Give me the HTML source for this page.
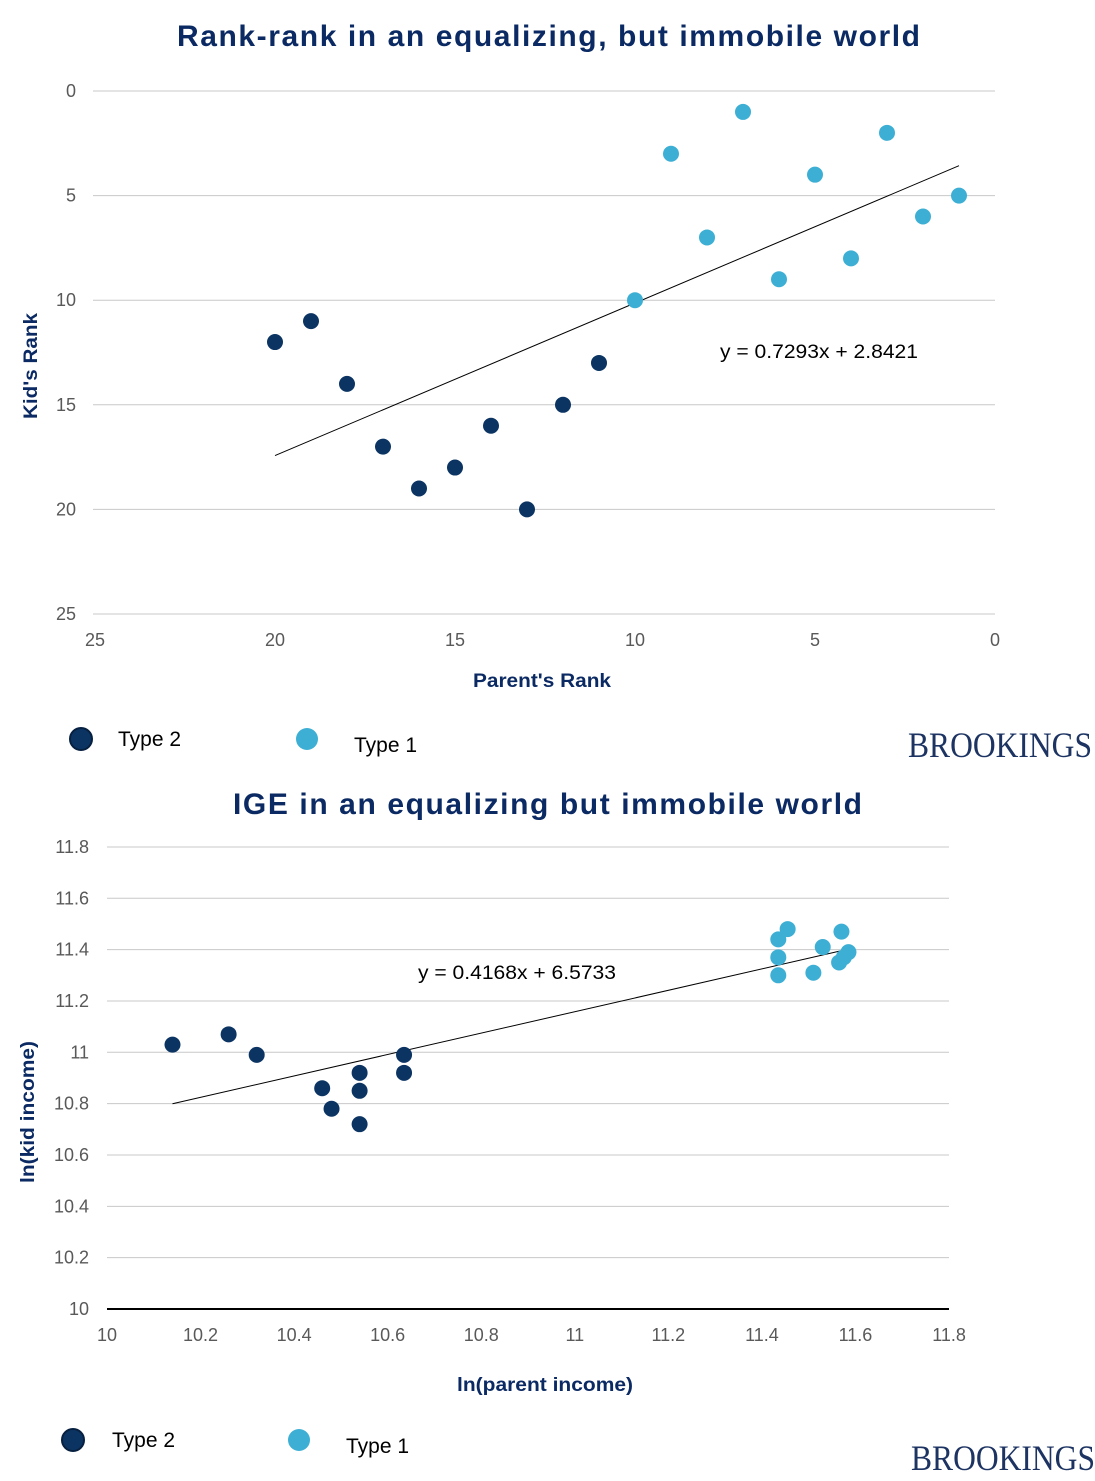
<!DOCTYPE html>
<html><head><meta charset="utf-8"><style>
body{margin:0;background:#fff;width:1095px;height:1481px;overflow:hidden;font-family:"Liberation Sans",Arial,sans-serif}
svg{display:block}
</style></head><body>
<svg id="svg" width="1095" height="1481" xmlns="http://www.w3.org/2000/svg">
<text x="177" y="46" font-size="30" font-weight="bold" fill="#0b2a63" textLength="743" lengthAdjust="spacing">Rank-rank in an equalizing, but immobile world</text>
<text x="233" y="814" font-size="30" font-weight="bold" fill="#0b2a63" textLength="629" lengthAdjust="spacing">IGE in an equalizing but immobile world</text>
<g id="c1"></g>
<g id="c2"></g>
<text x="37" y="366" transform="rotate(-90 37 366)" text-anchor="middle" font-size="19" font-weight="bold" fill="#0b2a63" textLength="106" lengthAdjust="spacingAndGlyphs">Kid's Rank</text>
<text x="542" y="687" text-anchor="middle" font-size="19" font-weight="bold" fill="#0b2a63" textLength="138" lengthAdjust="spacingAndGlyphs">Parent's Rank</text>
<text x="34" y="1112" transform="rotate(-90 34 1112)" text-anchor="middle" font-size="19" font-weight="bold" fill="#0b2a63" textLength="142" lengthAdjust="spacingAndGlyphs">ln(kid income)</text>
<text x="545" y="1391" text-anchor="middle" font-size="19" font-weight="bold" fill="#0b2a63" textLength="176" lengthAdjust="spacingAndGlyphs">ln(parent income)</text>
<g>
<circle cx="81" cy="739" r="11" fill="#0b3463" stroke="#072040" stroke-width="2"/>
<text x="118" y="746" font-size="21" fill="#000">Type 2</text>
<circle cx="307" cy="739" r="11" fill="#3dafd4"/>
<text x="354" y="752" font-size="21" fill="#000">Type 1</text>
</g>
<text x="1000" y="757" text-anchor="middle" font-size="36" font-family="Liberation Serif,serif" fill="#1d3463" textLength="184" lengthAdjust="spacingAndGlyphs">BROOKINGS</text>
<g>
<circle cx="73" cy="1440" r="11" fill="#0b3463" stroke="#072040" stroke-width="2"/>
<text x="112" y="1447" font-size="21" fill="#000">Type 2</text>
<circle cx="299" cy="1440" r="11" fill="#3dafd4"/>
<text x="346" y="1453" font-size="21" fill="#000">Type 1</text>
</g>
<text x="1003" y="1470" text-anchor="middle" font-size="36" font-family="Liberation Serif,serif" fill="#1d3463" textLength="184" lengthAdjust="spacingAndGlyphs">BROOKINGS</text>
</svg>
<script>
const rankType2X=[20,19,18,17,16,15,14,13,12,11];
const rankType2Y=[12,11,14,17,19,18,16,20,15,13];
const rankType1X=[10,9,8,7,6,5,4,3,2,1];
const rankType1Y=[10,3,7,1,9,4,8,2,6,5];
const rankTicks=[0,5,10,15,20,25];
const rankFit=[0.7293,2.8421];
const igeType2X=[10.14,10.26,10.32,10.46,10.48,10.54,10.54,10.54,10.635,10.635];
const igeType2Y=[11.03,11.07,10.99,10.86,10.78,10.92,10.85,10.72,10.99,10.92];
const igeType1X=[11.435,11.455,11.435,11.435,11.53,11.51,11.57,11.585,11.565,11.575];
const igeType1Y=[11.44,11.48,11.37,11.30,11.41,11.31,11.47,11.39,11.35,11.37];
const igeYTicks=["10","10.2","10.4","10.6","10.8","11","11.2","11.4","11.6","11.8"];
const igeXTicks=["10","10.2","10.4","10.6","10.8","11","11.2","11.4","11.6","11.8"];
const igeFit=[0.4168,6.5733];
const NS="http://www.w3.org/2000/svg";
function mk(p,t,a){const e=document.createElementNS(NS,t);for(const k in a)e.setAttribute(k,a[k]);p.appendChild(e);return e;}
const DARK="#0b3463",LIGHT="#3dafd4";
const c1=document.getElementById('c1');
const x1=v=>95+(25-v)*36, y1=v=>91+v*20.92;
rankTicks.forEach(t=>{
 const g=mk(c1,'line',{x1:93,x2:995,y1:y1(t),y2:y1(t),stroke:'#c8c8c8','stroke-width':1});
 
 
 const ty=mk(c1,'text',{x:76,y:y1(t)+6,'text-anchor':'end','font-size':18,fill:'#595959'});ty.textContent=t;
 
 
 const tx=mk(c1,'text',{x:x1(t),y:646,'text-anchor':'middle','font-size':18,fill:'#595959'});tx.textContent=t;
 
 
});
const f1=mk(c1,'line',{x1:x1(20),y1:y1(rankFit[0]*20+rankFit[1]),x2:x1(1),y2:y1(rankFit[0]*1+rankFit[1]),stroke:'#000','stroke-width':1});


const e1=mk(c1,'text',{x:720,y:358,'font-size':19,fill:'#000',textLength:198,lengthAdjust:'spacingAndGlyphs'});e1.textContent='y = 0.7293x + 2.8421';


rankType2X.forEach((v,i)=>{const c=mk(c1,'circle',{cx:x1(v),cy:y1(rankType2Y[i]),r:8,fill:DARK});
 
 });
rankType1X.forEach((v,i)=>{const c=mk(c1,'circle',{cx:x1(v),cy:y1(rankType1Y[i]),r:8,fill:LIGHT});
 
 });
const c2=document.getElementById('c2');
const x2=v=>107+(v-10)*467.8, y2=v=>1309-(v-10)*256.7;
igeYTicks.forEach(t=>{const v=parseFloat(t);
 const g=mk(c2,'line',{x1:107,x2:949,y1:y2(v),y2:y2(v),stroke:v===10?'#000':'#c8c8c8','stroke-width':v===10?2:1});
 
 
 const ty=mk(c2,'text',{x:89,y:y2(v)+6,'text-anchor':'end','font-size':18,fill:'#595959'});ty.textContent=t;
 
 
});
igeXTicks.forEach(t=>{const v=parseFloat(t);
 const tx=mk(c2,'text',{x:x2(v),y:1341,'text-anchor':'middle','font-size':18,fill:'#595959'});tx.textContent=t;
 
 
});
const f2=mk(c2,'line',{x1:x2(10.14),y1:y2(igeFit[0]*10.14+igeFit[1]),x2:x2(11.58),y2:y2(igeFit[0]*11.58+igeFit[1]),stroke:'#000','stroke-width':1});


const e2=mk(c2,'text',{x:418,y:979,'font-size':19,fill:'#000',textLength:198,lengthAdjust:'spacingAndGlyphs'});e2.textContent='y = 0.4168x + 6.5733';


igeType2X.forEach((v,i)=>{const c=mk(c2,'circle',{cx:x2(v),cy:y2(igeType2Y[i]),r:8,fill:DARK});
 
 });
igeType1X.forEach((v,i)=>{const c=mk(c2,'circle',{cx:x2(v),cy:y2(igeType1Y[i]),r:8,fill:LIGHT});
 
 });
</script>
</body></html>
